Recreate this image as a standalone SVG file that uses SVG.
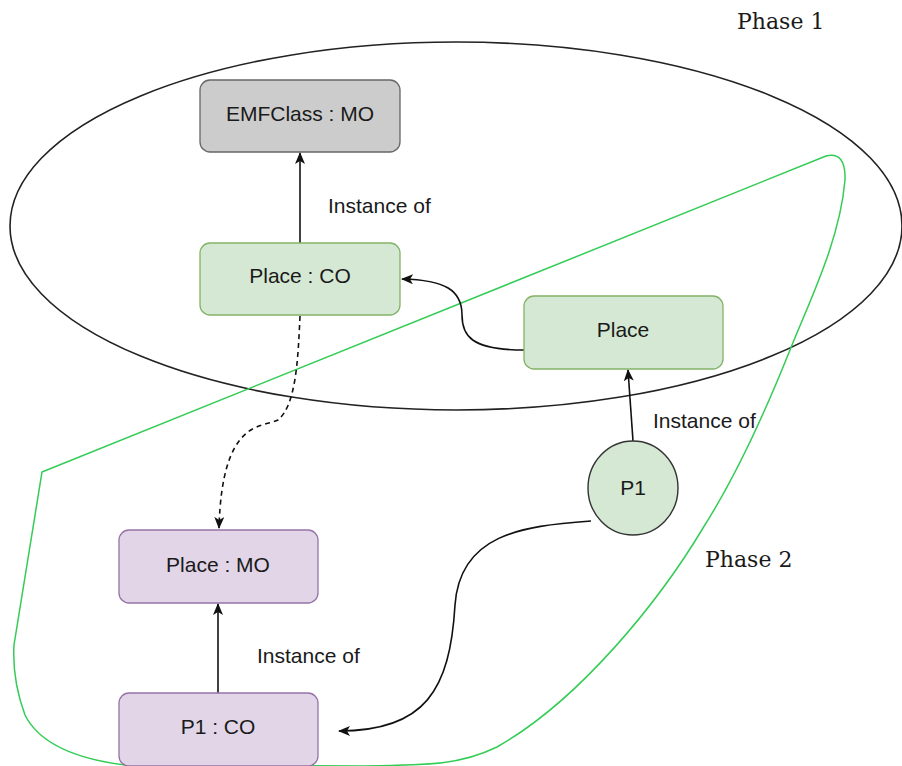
<svg xmlns="http://www.w3.org/2000/svg" width="902" height="766" viewBox="0 0 902 766">
  <style>
    .lbl { font-family: "Liberation Sans", Arial, sans-serif; font-size: 21px; fill: #1a1a1a; }
    .mid { text-anchor: middle; }
    .phase { font-family: "DejaVu Serif", "Liberation Serif", serif; font-size: 22px; fill: #1a1a1a; }
    .edge { fill: none; stroke: #111; stroke-width: 1.6; }
    .dash { stroke-dasharray: 5 4; }
    .grey { fill: #cccccc; stroke: #666666; stroke-width: 1.3; }
    .green { fill: #d5e8d4; stroke: #82b366; stroke-width: 1.3; }
    .purple { fill: #e1d5e7; stroke: #9673a6; stroke-width: 1.3; }
    .circle { fill: #d5e8d4; stroke: #333333; stroke-width: 1.4; }
  </style>
  <defs>
    <marker id="arrow" viewBox="0 0 12 10" refX="11" refY="5" markerWidth="12" markerHeight="10" markerUnits="userSpaceOnUse" orient="auto">
      <path d="M0,0 L12,5 L0,10 L3,5 z" fill="#111"/>
    </marker>
  </defs>

  <rect width="902" height="766" fill="#ffffff"/>

  <!-- phase regions -->
  <g id="regions">
    <ellipse cx="456" cy="226" rx="446" ry="184" fill="none" stroke="#222" stroke-width="1.6"/>
    <path d="M 42 472 L 826 156 Q 846 151 845 180 C 840 240 810 300 790 350 C 770 400 740 470 703 528 C 660 600 580 700 497 747 C 460 765 430 765 360 766 L 125 765 Q 45 755 25 715 Q 12 680 14 645 Z" fill="none" stroke="#33cc55" stroke-width="1.5"/>
    <text class="phase" x="737" y="29">Phase 1</text>
    <text class="phase" x="705" y="567">Phase 2</text>
  </g>

  <!-- connectors -->
  <g id="connectors">
    <path class="edge" d="M 300 243 L 300 153" marker-end="url(#arrow)"/>
    <text class="lbl" x="328" y="213">Instance of</text>

    <path class="edge" d="M 524 350 C 470 350 462 335 462 315 C 462 290 445 280 402 279" marker-end="url(#arrow)"/>

    <path class="edge" d="M 633 441 L 628 370" marker-end="url(#arrow)"/>
    <text class="lbl" x="653" y="428">Instance of</text>

    <path class="edge dash" d="M 300 316 C 298 360 296 405 278 420 C 262 428 222 418 219 528" marker-end="url(#arrow)"/>

    <path class="edge" d="M 218 693 L 218 604" marker-end="url(#arrow)"/>
    <text class="lbl" x="257" y="663">Instance of</text>

    <path class="edge" d="M 591 521 C 520 526 460 535 455 605 C 450 690 425 731 339 731" marker-end="url(#arrow)"/>
  </g>

  <!-- nodes -->
  <g id="emfclass-mo">
    <rect class="grey" x="200" y="80" width="200" height="72" rx="10"/>
    <text class="lbl mid" x="300" y="121">EMFClass : MO</text>
  </g>
  <g id="place-co">
    <rect class="green" x="200" y="243" width="200" height="72" rx="10"/>
    <text class="lbl mid" x="300" y="283">Place : CO</text>
  </g>
  <g id="place">
    <rect class="green" x="524" y="296" width="199" height="73" rx="10"/>
    <text class="lbl mid" x="623" y="337">Place</text>
  </g>
  <g id="p1">
    <ellipse class="circle" cx="633" cy="488" rx="45" ry="47"/>
    <text class="lbl mid" x="633" y="495">P1</text>
  </g>
  <g id="place-mo">
    <rect class="purple" x="119" y="530" width="199" height="73" rx="10"/>
    <text class="lbl mid" x="218" y="572">Place : MO</text>
  </g>
  <g id="p1-co">
    <rect class="purple" x="119" y="693" width="199" height="73" rx="10"/>
    <text class="lbl mid" x="218" y="734">P1 : CO</text>
  </g>
</svg>
